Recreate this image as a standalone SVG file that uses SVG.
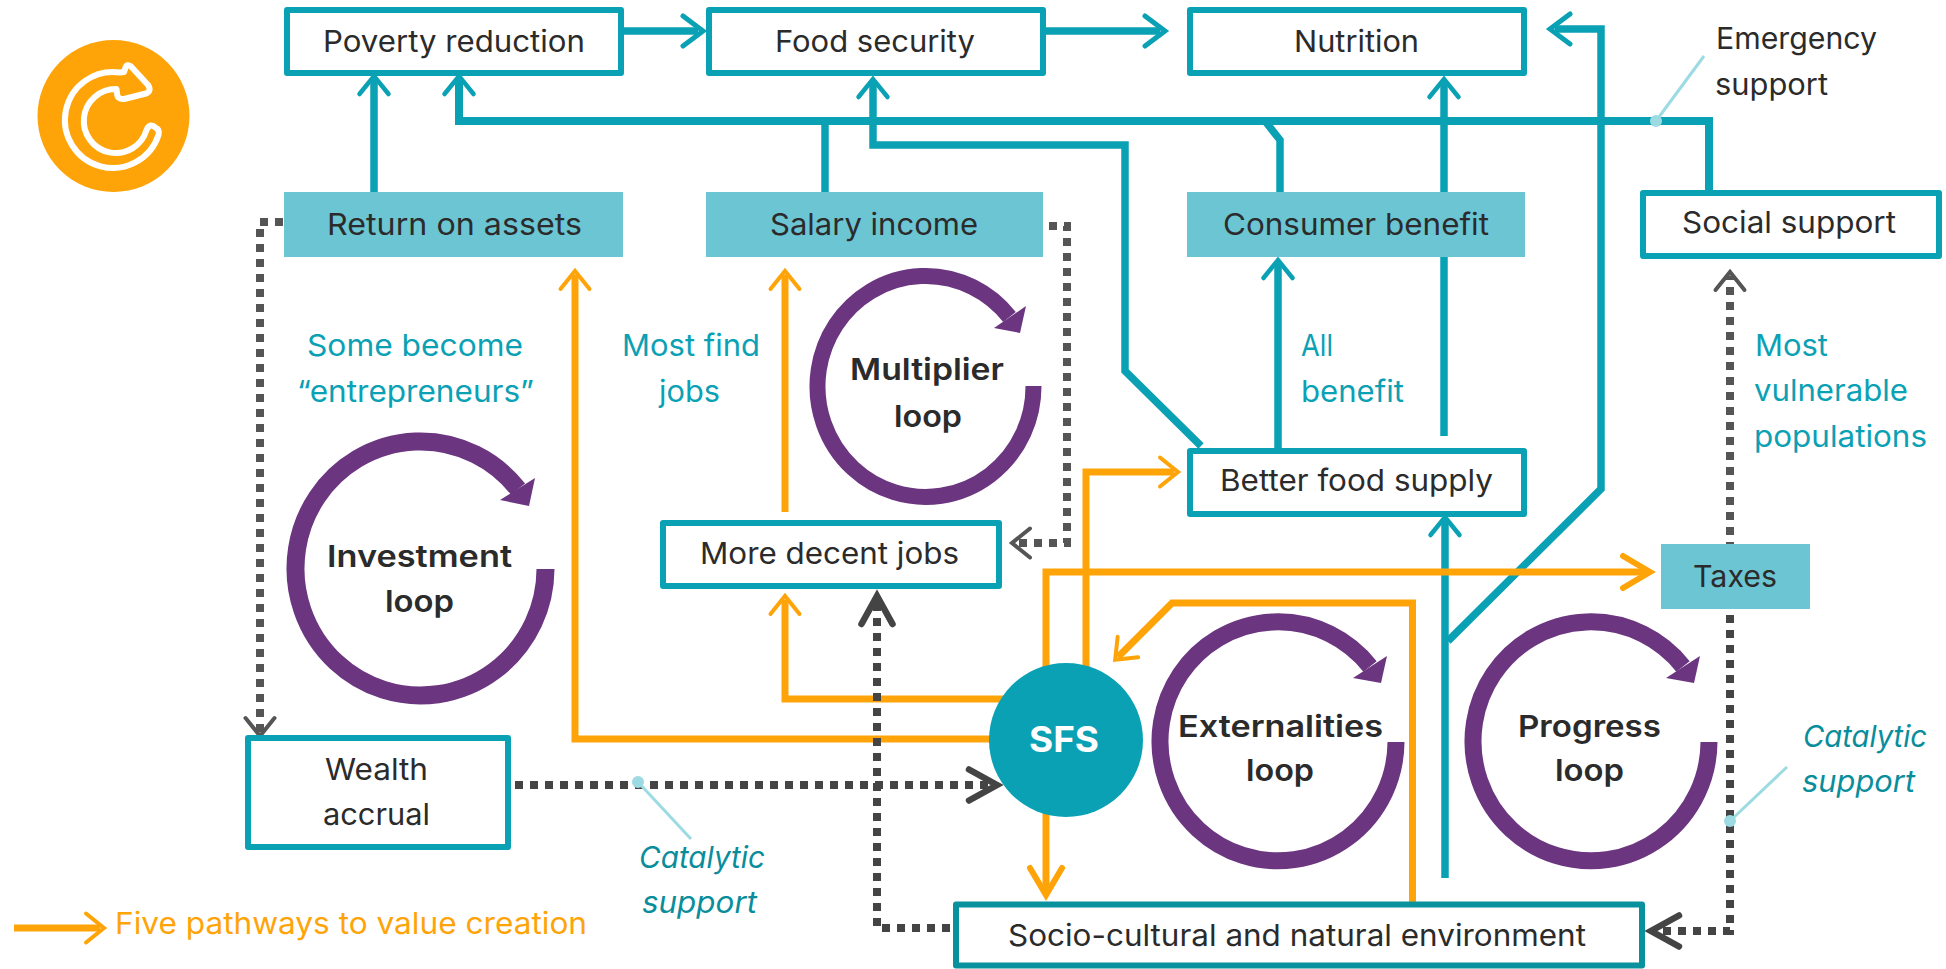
<svg xmlns="http://www.w3.org/2000/svg" width="1946" height="969" viewBox="0 0 1946 969">
<style>
text{font-family:Inter,"Liberation Sans",sans-serif;font-size:30px;fill:#2b2b2b}
.b{font-weight:600}
.t{fill:#0ba1b5}
.i{font-style:italic;fill:#0a8d9b}
.o{fill:#ffa408}
.w{fill:#fff;font-weight:700;font-size:35px}
.box{fill:#fff;stroke:#0ba1b5;stroke-width:6;stroke-linejoin:round}
.pay{fill:#6cc5d3}
.ln{fill:none;stroke-linejoin:miter}
.teal{stroke:#0ba1b5;stroke-width:7.5}
.org{stroke:#ffa408;stroke-width:7}
.dot{stroke:#555;stroke-width:8;stroke-dasharray:8 7}
.dk{stroke:#444}
.call{stroke:#9ddbe3;stroke-width:3;fill:none}
.calld{fill:#9ddbe3}
.ring{fill:none;stroke:#6b3580}
.hd{fill:#6b3580}
.mk{fill:none;stroke-linecap:round;stroke-linejoin:miter}
</style>
<defs>
<marker id="tS" markerUnits="userSpaceOnUse" viewBox="-24 -20 30 40" markerWidth="30" markerHeight="40" refX="-4" refY="0" orient="auto"><path class="mk" d="M-18-14.500L0 0L-18 14.500" stroke="#0ba1b5" stroke-width="4.500"/></marker>
<marker id="tW" markerUnits="userSpaceOnUse" viewBox="-28 -20 34 40" markerWidth="34" markerHeight="40" refX="-5" refY="0" orient="auto"><path class="mk" d="M-20-15L0 0L-20 15" stroke="#0ba1b5" stroke-width="5"/></marker>
<marker id="oS" markerUnits="userSpaceOnUse" viewBox="-24 -20 30 40" markerWidth="30" markerHeight="40" refX="-4" refY="0" orient="auto"><path class="mk" d="M-18-14.500L0 0L-18 14.500" stroke="#ffa408" stroke-width="4"/></marker>
<marker id="oL" markerUnits="userSpaceOnUse" viewBox="-34 -22 42 44" markerWidth="42" markerHeight="44" refX="-6" refY="0" orient="auto"><path class="mk" d="M-27-16L0 0L-27 16" stroke="#ffa408" stroke-width="6"/></marker>
<marker id="gS" markerUnits="userSpaceOnUse" viewBox="-24 -20 30 40" markerWidth="30" markerHeight="40" refX="-4" refY="0" orient="auto"><path class="mk" d="M-18-14.500L0 0L-18 14.500" stroke="#555" stroke-width="4"/></marker>
<marker id="gL" markerUnits="userSpaceOnUse" viewBox="-36 -22 44 44" markerWidth="44" markerHeight="44" refX="-6" refY="0" orient="auto"><path class="mk" d="M-28-15.500L0 0L-28 15.500" stroke="#444" stroke-width="6.500"/></marker>
</defs>
<g id="icon">
<circle cx="113.500" cy="116" r="76" fill="#ffa408"/>
<path d="M120 72.500L124 72L125.500 67.500Q127 63.500 131 66.500L148 85Q152 91 146 93.500L124 99Q117 99.500 117 93L116.500 89A32 32 0 1 0 146.500 130Q150 122 156 128Q160 130 158.500 135A48 48 0 1 1 120 72.500Z" fill="none" stroke="#fff" stroke-width="6" stroke-linejoin="round"/>
</g>
<g id="connectors">
<path class="ln teal" d="M624 31H698" marker-end="url(#tW)"/>
<path class="ln teal" d="M1046 31H1160" marker-end="url(#tW)"/>
<path class="ln teal" d="M374 192V80" marker-end="url(#tS)"/>
<path class="ln teal" style="stroke-width:8" d="M1709 193V121H459V80" marker-end="url(#tS)"/>
<path class="ln teal" d="M825 193V121"/>
<path class="ln teal" d="M1201 446L1125 371V145H873V83" marker-end="url(#tS)"/>
<path class="ln teal" d="M1280 193V140L1265 121"/>
<path class="ln teal" d="M1444 436V83" marker-end="url(#tS)"/>
<path class="ln teal" d="M1278 450V264" marker-end="url(#tS)"/>
<path class="ln teal" d="M1448 641L1601 489V29H1555" marker-end="url(#tW)"/>
<path class="ln teal" d="M1445 878V521" marker-end="url(#tS)"/>
<path class="ln org" d="M1010 739H575V275" marker-end="url(#oS)"/>
<path class="ln org" d="M785 512V275" marker-end="url(#oS)"/>
<path class="ln org" d="M1010 699H785V600" marker-end="url(#oS)"/>
<path class="ln org" d="M1086 670V472H1174" marker-end="url(#oS)"/>
<path class="ln org" d="M1046 680V572H1644" marker-end="url(#oL)"/>
<path class="ln org" d="M1046 800V889" marker-end="url(#oL)"/>
<path class="ln org" d="M1412.500 905V603H1172L1118 657" marker-end="url(#oS)"/>
<path class="ln org" d="M14 928H100" marker-end="url(#oS)"/>
<path class="ln dot" d="M283 222H260V732" marker-end="url(#gS)"/>
<path class="ln dot" d="M1049 226H1067V543H1016" marker-end="url(#gS)"/>
<path class="ln dot dk" d="M515 785H991" marker-end="url(#gL)"/>
<path class="ln dot dk" d="M950 928H877V602" marker-end="url(#gL)"/>
<path class="ln dot dk" d="M1730 600V931H1657" marker-end="url(#gL)"/>
<path class="ln dot" d="M1730 550V276" marker-end="url(#gS)"/>
<path class="call" d="M1704 56L1656 121"/><circle class="calld" cx="1656" cy="121" r="6"/>
<path class="call" d="M638 782L691 839"/><circle class="calld" cx="638" cy="782" r="6"/>
<path class="call" d="M1787 767L1730 821"/><circle class="calld" cx="1730" cy="821" r="6"/>
</g>
<g id="poverty"><rect class="box" x="287" y="10" width="334" height="63"/><text x="323" y="52" textLength="262" lengthAdjust="spacingAndGlyphs">Poverty reduction</text></g>
<g id="food"><rect class="box" x="709" y="10" width="334" height="63"/><text x="775" y="52" textLength="200" lengthAdjust="spacingAndGlyphs">Food security</text></g>
<g id="nutrition"><rect class="box" x="1190" y="10" width="334" height="63"/><text x="1294" y="52" textLength="125" lengthAdjust="spacingAndGlyphs">Nutrition</text></g>
<g id="return"><rect class="pay" x="284" y="192" width="339" height="65"/><text x="327" y="235" textLength="255" lengthAdjust="spacingAndGlyphs">Return on assets</text></g>
<g id="salary"><rect class="pay" x="706" y="192" width="337" height="65"/><text x="770" y="235" textLength="208" lengthAdjust="spacingAndGlyphs">Salary income</text></g>
<g id="consumer"><rect class="pay" x="1187" y="192" width="338" height="65"/><text x="1223" y="235" textLength="266" lengthAdjust="spacingAndGlyphs">Consumer benefit</text></g>
<g id="social"><rect class="box" x="1643" y="193" width="296" height="63"/><text x="1682" y="233" textLength="214" lengthAdjust="spacingAndGlyphs">Social support</text></g>
<g id="better"><rect class="box" x="1190" y="451" width="334" height="63"/><text x="1220" y="491" textLength="273" lengthAdjust="spacingAndGlyphs">Better food supply</text></g>
<g id="jobs"><rect class="box" x="663" y="523" width="336" height="63"/><text x="700" y="564" textLength="259" lengthAdjust="spacingAndGlyphs">More decent jobs</text></g>
<g id="wealth"><rect class="box" x="248" y="738" width="260" height="109"/><text x="325" y="780" textLength="103" lengthAdjust="spacingAndGlyphs">Wealth</text><text x="323" y="825" textLength="107" lengthAdjust="spacingAndGlyphs">accrual</text></g>
<g id="socio"><rect class="box" style="stroke:#0a919e" x="956" y="904.500" width="686" height="61"/><text x="1008" y="946" textLength="578" lengthAdjust="spacingAndGlyphs">Socio-cultural and natural environment</text></g>
<g id="taxes"><rect class="pay" x="1661" y="544" width="149" height="65"/><text x="1693" y="587" textLength="84" lengthAdjust="spacingAndGlyphs">Taxes</text></g>
<g id="sfs"><circle cx="1066" cy="740" r="77" fill="#0ba1b5"/><text class="w" x="1029" y="752" textLength="70" lengthAdjust="spacingAndGlyphs">SFS</text></g>
<g id="investment-loop"><path class="ring" stroke-width="18" d="M545.500 569A125 127 0 1 1 518 489"/><polygon class="hd" points="535,478 529,506 500,500"/><text class="b" x="327" y="567" textLength="185" lengthAdjust="spacingAndGlyphs">Investment</text><text class="b" x="385" y="612" textLength="69" lengthAdjust="spacingAndGlyphs">loop</text></g>
<g id="multiplier-loop"><path class="ring" stroke-width="16" d="M1033.500 386A108 110.500 0 1 1 1009.500 317"/><polygon class="hd" points="1026,306 1020,333 994,328"/><text class="b" x="850" y="380" textLength="154" lengthAdjust="spacingAndGlyphs">Multiplier</text><text class="b" x="894" y="427" textLength="68" lengthAdjust="spacingAndGlyphs">loop</text></g>
<g id="externalities-loop"><path class="ring" stroke-width="17" d="M1396 742A118 119.500 0 1 1 1370 666.500"/><polygon class="hd" points="1387,656 1381,683 1353,678"/><text class="b" x="1178" y="737" textLength="205" lengthAdjust="spacingAndGlyphs">Externalities</text><text class="b" x="1246" y="781" textLength="68" lengthAdjust="spacingAndGlyphs">loop</text></g>
<g id="progress-loop"><path class="ring" stroke-width="17" d="M1709 742A118 119.500 0 1 1 1683 666.500"/><polygon class="hd" points="1700,656 1694,683 1666,678"/><text class="b" x="1518" y="737" textLength="143" lengthAdjust="spacingAndGlyphs">Progress</text><text class="b" x="1555" y="781" textLength="69" lengthAdjust="spacingAndGlyphs">loop</text></g>
<g id="labels">
<text x="1716" y="49" textLength="161" lengthAdjust="spacingAndGlyphs">Emergency</text>
<text x="1715" y="95" textLength="113" lengthAdjust="spacingAndGlyphs">support</text>
<text class="t" x="307" y="356" textLength="216" lengthAdjust="spacingAndGlyphs">Some become</text>
<text class="t" x="297" y="402" textLength="237" lengthAdjust="spacingAndGlyphs">“entrepreneurs”</text>
<text class="t" x="622" y="356" textLength="138" lengthAdjust="spacingAndGlyphs">Most find</text>
<text class="t" x="659" y="402" textLength="61" lengthAdjust="spacingAndGlyphs">jobs</text>
<text class="t" x="1301" y="356" textLength="32" lengthAdjust="spacingAndGlyphs">All</text>
<text class="t" x="1301" y="402" textLength="103" lengthAdjust="spacingAndGlyphs">benefit</text>
<text class="t" x="1755" y="356" textLength="73" lengthAdjust="spacingAndGlyphs">Most</text>
<text class="t" x="1754" y="401" textLength="154" lengthAdjust="spacingAndGlyphs">vulnerable</text>
<text class="t" x="1754" y="447" textLength="173" lengthAdjust="spacingAndGlyphs">populations</text>
<text class="i" x="639" y="868" textLength="126" lengthAdjust="spacingAndGlyphs">Catalytic</text>
<text class="i" x="642" y="913" textLength="115" lengthAdjust="spacingAndGlyphs">support</text>
<text class="i" x="1803" y="747" textLength="124" lengthAdjust="spacingAndGlyphs">Catalytic</text>
<text class="i" x="1802" y="792" textLength="113" lengthAdjust="spacingAndGlyphs">support</text>
<text class="o" x="115" y="934" textLength="472" lengthAdjust="spacingAndGlyphs">Five pathways to value creation</text>
</g>
</svg>
